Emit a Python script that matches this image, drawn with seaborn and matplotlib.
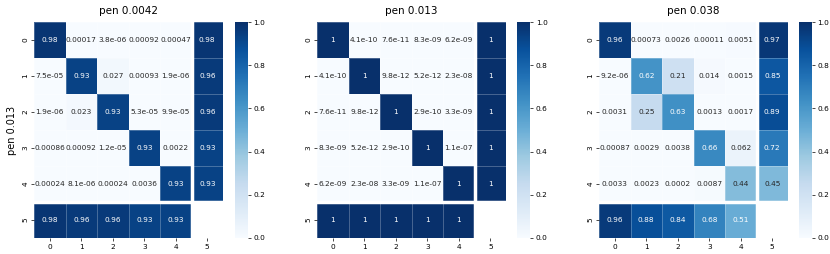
import numpy as np
import seaborn as sns
import matplotlib
matplotlib.use("Agg")
import matplotlib.pyplot as plt

nan = np.nan

titles = ["pen 0.0042", "pen 0.013", "pen 0.038"]
labels = [0, 1, 2, 3, 4, 5]

pen_0042 = [
    [0.98, 0.00017, 3.8e-06, 0.00092, 0.00047, 0.98],
    [7.5e-05, 0.93, 0.027, 0.00093, 1.9e-06, 0.96],
    [1.9e-06, 0.023, 0.93, 5.3e-05, 9.9e-05, 0.96],
    [0.00086, 0.00092, 1.2e-05, 0.93, 0.0022, 0.93],
    [0.00024, 8.1e-06, 0.00024, 0.0036, 0.93, 0.93],
    [0.98, 0.96, 0.96, 0.93, 0.93, nan],
]

pen_013 = [
    [1, 4.1e-10, 7.6e-11, 8.3e-09, 6.2e-09, 1],
    [4.1e-10, 1, 9.8e-12, 5.2e-12, 2.3e-08, 1],
    [7.6e-11, 9.8e-12, 1, 2.9e-10, 3.3e-09, 1],
    [8.3e-09, 5.2e-12, 2.9e-10, 1, 1.1e-07, 1],
    [6.2e-09, 2.3e-08, 3.3e-09, 1.1e-07, 1, 1],
    [1, 1, 1, 1, 1, nan],
]

pen_038 = [
    [0.96, 0.00073, 0.0026, 0.00011, 0.0051, 0.97],
    [9.2e-06, 0.62, 0.21, 0.014, 0.0015, 0.85],
    [0.0031, 0.25, 0.63, 0.0013, 0.0017, 0.89],
    [0.00087, 0.0029, 0.0038, 0.66, 0.062, 0.72],
    [0.0033, 0.0023, 0.0002, 0.0087, 0.44, 0.45],
    [0.96, 0.88, 0.84, 0.68, 0.51, nan],
]

matrices = [pen_0042, pen_013, pen_038]

fig = plt.figure(figsize=(8.3, 2.54), dpi=100)

ax_lefts = [0.041, 0.382, 0.7217]
cb_lefts = [0.283, 0.623, 0.9627]

for i, mat in enumerate(matrices):
    ax = fig.add_axes([ax_lefts[i], 0.063, 0.2277, 0.85])
    cax = fig.add_axes([cb_lefts[i], 0.063, 0.0157, 0.85])
    sns.heatmap(np.array(mat, dtype=float), ax=ax, cbar_ax=cax, cmap="Blues",
                vmin=0, vmax=1, annot=True, annot_kws={"fontsize": 5.3},
                linewidths=0.4, linecolor=(1, 1, 1, 0.25),
                xticklabels=labels, yticklabels=labels)
    ax.axhline(5, color="white", lw=2.5)
    ax.axvline(5, color="white", lw=2.5)
    ax.set_title(titles[i], fontsize=7.5)
    ax.tick_params(labelsize=5.3, length=2.5, width=0.5, pad=1.5)
    plt.setp(ax.get_yticklabels(), rotation=90, va="center")
    cax.tick_params(labelsize=5.3, length=2.5, width=0.5, pad=1.5)
    cax.set_yticks([0, 0.2, 0.4, 0.6, 0.8, 1.0])
    if i == 0:
        ax.set_ylabel("pen 0.013", fontsize=7)

plt.savefig("out.png", dpi=100)
